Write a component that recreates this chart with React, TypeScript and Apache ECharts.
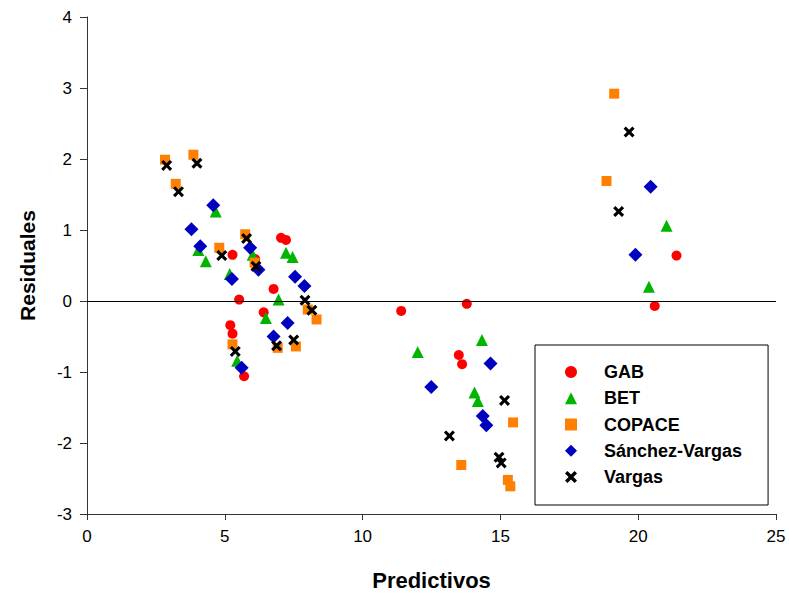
import React, { useEffect, useRef } from "react";
import * as echarts from "echarts";

// Predicted values (x) and residuals (y) for each model
const gabX = [5.28, 6.1, 7.04, 7.22, 6.77, 5.52, 6.41, 5.2, 5.28, 5.7, 11.4, 13.78, 13.49, 13.61, 21.39, 20.6];
const gabY = [0.65, 0.59, 0.89, 0.86, 0.17, 0.02, -0.16, -0.34, -0.46, -1.06, -0.14, -0.04, -0.76, -0.89, 0.64, -0.07];

const betX = [4.67, 4.04, 4.31, 5.18, 6.01, 7.22, 7.46, 6.95, 6.49, 5.45, 12.0, 14.33, 14.06, 14.18, 21.03, 20.39];
const betY = [1.26, 0.72, 0.56, 0.38, 0.65, 0.68, 0.62, 0.02, -0.24, -0.84, -0.72, -0.55, -1.29, -1.41, 1.06, 0.2];

const copaceX = [2.83, 3.86, 3.22, 5.74, 4.8, 6.08, 8.01, 8.33, 5.28, 6.92, 7.58, 15.46, 13.58, 15.27, 15.36, 19.13, 18.85];
const copaceY = [1.99, 2.06, 1.65, 0.94, 0.75, 0.54, -0.12, -0.26, -0.61, -0.66, -0.64, -1.71, -2.31, -2.52, -2.61, 2.92, 1.69];

const sanchezX = [4.58, 3.79, 4.11, 5.26, 5.92, 6.22, 7.55, 7.89, 7.28, 6.77, 5.61, 12.49, 14.64, 14.36, 14.49, 20.45, 19.9];
const sanchezY = [1.35, 1.01, 0.77, 0.31, 0.75, 0.44, 0.34, 0.21, -0.31, -0.5, -0.94, -1.21, -0.88, -1.62, -1.75, 1.61, 0.65];

const vargasX = [2.89, 3.99, 3.32, 5.79, 4.89, 6.13, 7.91, 8.16, 5.38, 6.88, 7.5, 15.15, 13.15, 14.95, 15.03, 19.67, 19.29];
const vargasY = [1.91, 1.94, 1.54, 0.88, 0.64, 0.49, 0.01, -0.13, -0.71, -0.63, -0.55, -1.4, -1.9, -2.2, -2.28, 2.38, 1.26];

const seriesNames = ["GAB", "BET", "COPACE", "Sánchez-Vargas", "Vargas"];

const xTicks = { min: 0, max: 25, interval: 5 };
const yTicks = { min: -3, max: 4, interval: 1 };

const CROSS = "path://M2,0 L5,3 L8,0 L10,2 L7,5 L10,8 L8,10 L5,7 L2,10 L0,8 L3,5 L0,2 Z";
const FONT = "Liberation Sans, Arial, sans-serif";

const pairs = (xs: number[], ys: number[]) => xs.map((x, i) => [x, ys[i]]);

export default function App() {
  const ref = useRef<HTMLDivElement>(null);

  useEffect(() => {
    document.body.style.margin = "0";
    if (!ref.current) return;
    const chart = echarts.init(ref.current, undefined, { renderer: "svg" });

    const mk = (name: string, data: number[][], symbol: string, size: number, color: string, extra: any = {}) => ({
      name,
      type: "scatter",
      data,
      symbol,
      symbolSize: size,
      itemStyle: { color, opacity: 1 },
      ...extra,
    });

    chart.setOption({
      animation: false,
      backgroundColor: "#fff",
      grid: { left: 87, right: 13, top: 17, bottom: 83 },
      xAxis: {
        type: "value",
        min: xTicks.min,
        max: xTicks.max,
        interval: xTicks.interval,
        name: "Predictivos",
        nameLocation: "middle",
        nameGap: 55,
        nameTextStyle: { fontFamily: FONT, fontSize: 22, fontWeight: "bold", color: "#000" },
        axisLine: { show: true, onZero: false, lineStyle: { color: "#333", width: 1 } },
        axisTick: { show: true, length: 6, lineStyle: { color: "#333" } },
        axisLabel: { fontFamily: FONT, fontSize: 17, color: "#000", margin: 14 },
        splitLine: { show: false },
      },
      yAxis: {
        type: "value",
        min: yTicks.min,
        max: yTicks.max,
        interval: yTicks.interval,
        name: "Residuales",
        nameLocation: "middle",
        nameGap: 49,
        nameTextStyle: { fontFamily: FONT, fontSize: 21, fontWeight: "bold", color: "#000" },
        axisLine: { show: true, onZero: false, lineStyle: { color: "#333", width: 1 } },
        axisTick: { show: true, length: 7, lineStyle: { color: "#333" } },
        axisLabel: { fontFamily: FONT, fontSize: 17, color: "#000", margin: 15 },
        splitLine: { show: false },
      },
      legend: {
        orient: "vertical",
        left: 535,
        top: 345,
        data: seriesNames,
        itemWidth: 12,
        itemHeight: 12,
        itemGap: 8.25,
        padding: [18, 26, 19, 30],
        backgroundColor: "#fff",
        borderColor: "#000",
        borderWidth: 1,
        borderRadius: 0,
        textStyle: {
          fontFamily: FONT,
          fontSize: 18,
          fontWeight: "bold",
          color: "#000",
          padding: [0, 0, 0, 22],
        },
      },
      series: [
        mk(seriesNames[0], pairs(gabX, gabY), "circle", 10, "#ff0000", {
          markLine: {
            silent: true,
            symbol: "none",
            label: { show: false },
            lineStyle: { color: "#000", width: 1, type: "solid" },
            data: [{ yAxis: 0 }],
          },
        }),
        mk(seriesNames[1], pairs(betX, betY), "triangle", 12, "#00b400"),
        mk(seriesNames[2], pairs(copaceX, copaceY), "rect", 10, "#ff8000"),
        mk(seriesNames[3], pairs(sanchezX, sanchezY), "diamond", 14, "#0000c0"),
        mk(seriesNames[4], pairs(vargasX, vargasY), CROSS, 11, "#000000"),
      ],
    });

    return () => chart.dispose();
  }, []);

  return <div ref={ref} style={{ width: 789, height: 597 }} />;
}
